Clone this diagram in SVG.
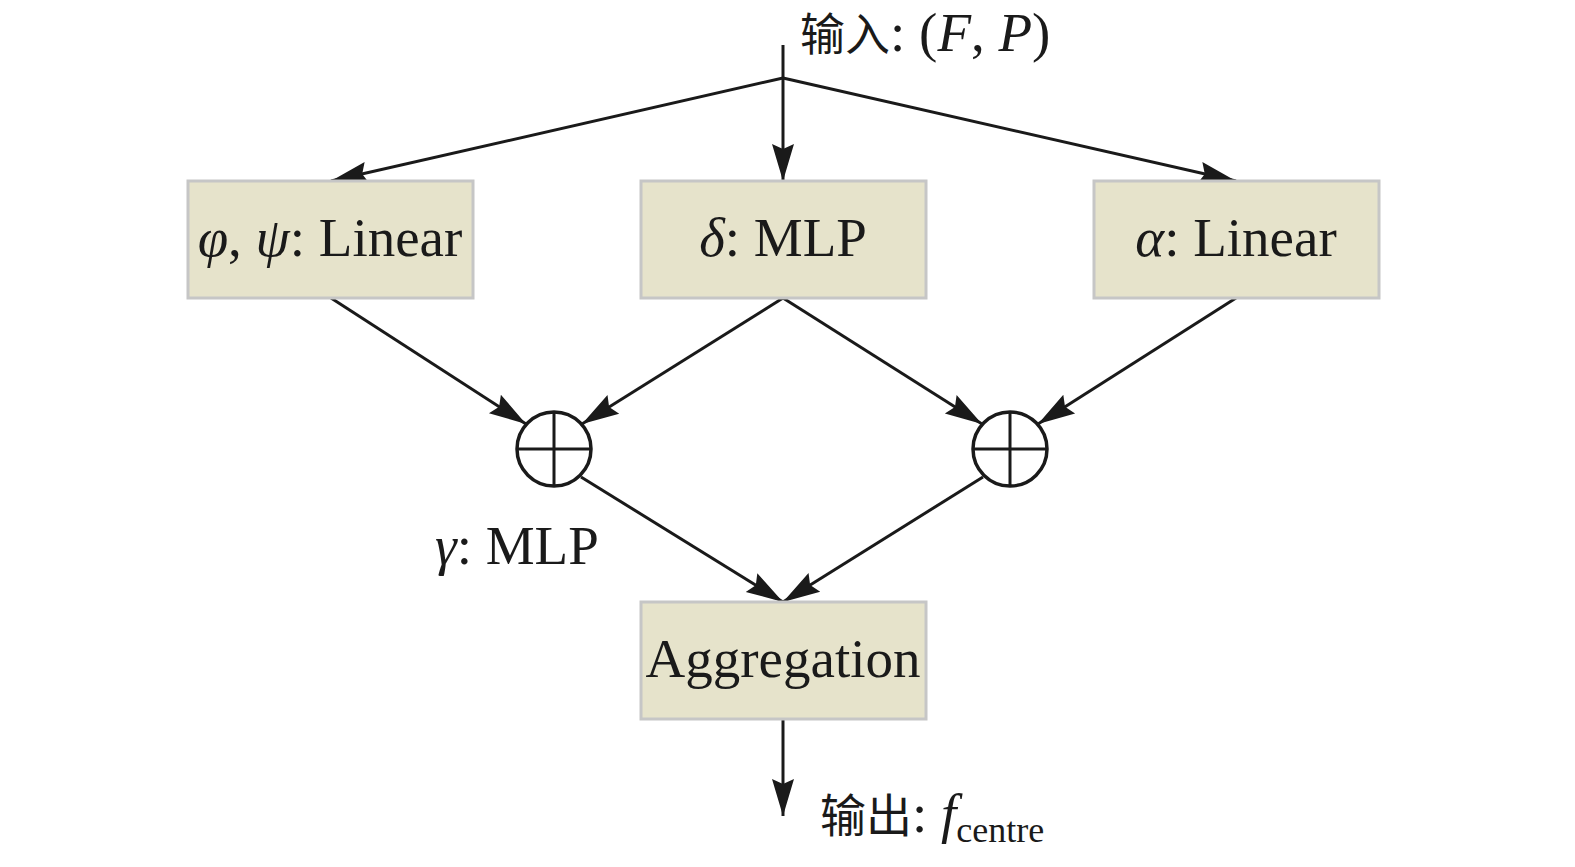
<svg xmlns="http://www.w3.org/2000/svg" width="1575" height="867" viewBox="0 0 1575 867">
<style>
.box{fill:#e6e3cb;stroke:#c6c6c6;stroke-width:3}
.t{font-family:"Liberation Serif","Noto Sans CJK SC",serif;font-size:55px;fill:#1a1a1a}
.c{font-family:"Noto Sans CJK SC",sans-serif;fill:#1a1a1a}
.ln{stroke:#1a1a1a;stroke-width:3;fill:none}
.op{fill:#fff;stroke:#1a1a1a;stroke-width:3.5}
</style>
<defs>
<marker id="ah" markerUnits="userSpaceOnUse" markerWidth="40" markerHeight="26" refX="37" refY="13" orient="auto">
<path d="M0,2 L37,13 L0,24 L5,13 Z" fill="#1a1a1a"/>
</marker>
</defs>
<rect width="1575" height="867" fill="#fff"/>
<g id="connectors">
<path class="ln" d="M783,45 V78"/>
<path class="ln" d="M783,78 L331,181" marker-end="url(#ah)"/>
<path class="ln" d="M783,78 V181" marker-end="url(#ah)"/>
<path class="ln" d="M783,78 L1236,181" marker-end="url(#ah)"/>
<path class="ln" d="M331,298 L526,424" marker-end="url(#ah)"/>
<path class="ln" d="M783,298 L582,424" marker-end="url(#ah)"/>
<path class="ln" d="M783,298 L982,424" marker-end="url(#ah)"/>
<path class="ln" d="M1236,298 L1038,424" marker-end="url(#ah)"/>
<path class="ln" d="M581,477 L783,602" marker-end="url(#ah)"/>
<path class="ln" d="M983,477 L783,602" marker-end="url(#ah)"/>
<path class="ln" d="M783,719 V816" marker-end="url(#ah)"/>
</g>
<g id="input">
<text x="800" y="51" class="t"><tspan class="c" font-size="45">输入</tspan>: (<tspan font-style="italic">F</tspan>, <tspan font-style="italic">P</tspan>)</text>
</g>
<g id="phipsi">
<rect class="box" x="188" y="181" width="285" height="117"/>
<text x="330" y="256" class="t" text-anchor="middle"><tspan font-style="italic">φ</tspan>, <tspan font-style="italic">ψ</tspan>: Linear</text>
</g>
<g id="delta">
<rect class="box" x="641" y="181" width="285" height="117"/>
<text x="783" y="256" class="t" text-anchor="middle"><tspan font-style="italic">δ</tspan>: MLP</text>
</g>
<g id="alpha">
<rect class="box" x="1094" y="181" width="285" height="117"/>
<text x="1236" y="256" class="t" text-anchor="middle"><tspan font-style="italic">α</tspan>: Linear</text>
</g>
<g id="plus1">
<circle class="op" cx="554" cy="449" r="37"/>
<path class="ln" d="M517,449 H591 M554,412 V486"/>
</g>
<g id="plus2">
<circle class="op" cx="1010" cy="449" r="37"/>
<path class="ln" d="M973,449 H1047 M1010,412 V486"/>
</g>
<g id="gamma">
<text x="435" y="564" class="t"><tspan font-style="italic">γ</tspan>: MLP</text>
</g>
<g id="aggregation">
<rect class="box" x="641" y="602" width="285" height="117"/>
<text x="783" y="677" class="t" text-anchor="middle">Aggregation</text>
</g>
<g id="output">
<text x="820" y="832" class="t"><tspan class="c" font-size="46">输出</tspan>: <tspan font-style="italic">f</tspan><tspan font-size="36" dy="10">centre</tspan></text>
</g>
</svg>
